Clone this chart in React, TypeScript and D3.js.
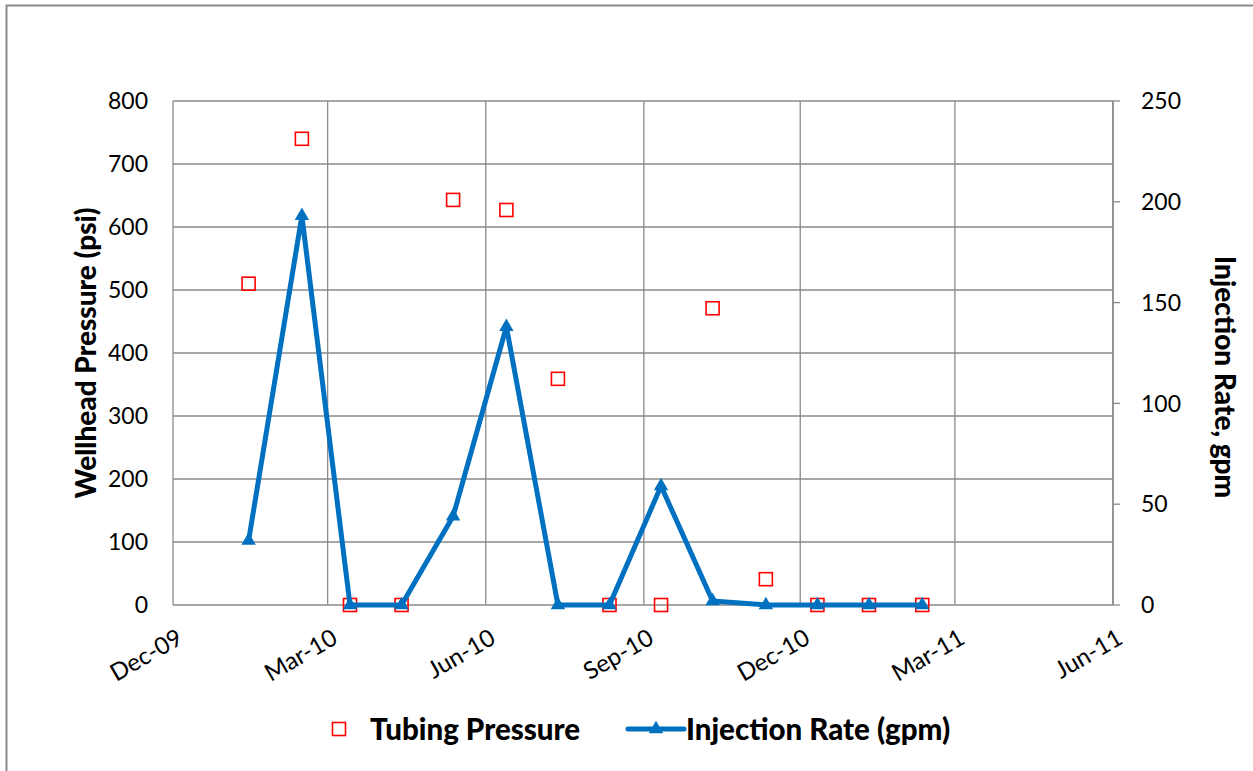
import React from 'react';
import * as d3 from 'd3';

// monthly readings (approx. mid-month)
const sampleDates = [
  '2010-01-14', '2010-02-14', '2010-03-14', '2010-04-13', '2010-05-13', '2010-06-13', '2010-07-13',
  '2010-08-12', '2010-09-11', '2010-10-11', '2010-11-11', '2010-12-11', '2011-01-10', '2011-02-10',
];
const tubingPressure = [510, 740, 0, 0, 643, 627, 359, 0, 0, 471, 41, 0, 0, 0];
const injectionRate = [32, 193, 0, 0, 44, 138, 0, 0, 59, 2, 0, 0, 0, 0];

const xDomain = ['2009-12-01', '2011-06-01'];
const pressureTicks = [0, 100, 200, 300, 400, 500, 600, 700, 800];
const rateTicks = [0, 50, 100, 150, 200, 250];

const W = 1253;
const H = 771;
const plot = { left: 173, right: 1113, top: 101, bottom: 605 };
const FONT = 'Lato, "Open Sans", sans-serif';
const GRID = '#8a8a8a';
const BLUE = '#0070C0';
const RED = '#FF0000';

const parse = d3.timeParse('%Y-%m-%d');

const App: React.FC = () => {
  const x = d3.scaleTime()
    .domain(xDomain.map(d => parse(d) as Date))
    .range([plot.left, plot.right]);
  const yL = d3.scaleLinear().domain([0, 800]).range([plot.bottom, plot.top]);
  const yR = d3.scaleLinear().domain([0, 250]).range([plot.bottom, plot.top]);

  // every third month starting Dec-09
  const xTicks = d3.timeMonth.range(x.domain()[0], d3.timeDay.offset(x.domain()[1], 1), 3);
  const fmt = d3.timeFormat('%b-%y');

  const dates = sampleDates.map(d => parse(d) as Date);
  const line = d3.line<number>()
    .x((_, i) => x(dates[i]))
    .y(d => yR(d));
  const tri = d3.symbol(d3.symbolTriangle, 90)();

  return (
    <svg width={W} height={H} style={{ position: 'absolute', left: 0, top: 0, background: '#fff' }}
      fontFamily={FONT}>
      <rect x={6.5} y={5.5} width={W + 20} height={H + 20} fill="#fff" stroke={GRID} strokeWidth={2} />

      {/* grid */}
      {pressureTicks.map(t => (
        <line key={'h' + t} x1={plot.left} x2={plot.right} y1={yL(t)} y2={yL(t)} stroke={GRID} strokeWidth={1.3} />
      ))}
      {xTicks.map(t => (
        <line key={'v' + t.getTime()} x1={x(t)} x2={x(t)} y1={plot.top} y2={plot.bottom} stroke={GRID} strokeWidth={1.3} />
      ))}

      {/* right axis */}
      <line x1={plot.right} x2={plot.right} y1={plot.top} y2={plot.bottom} stroke={GRID} strokeWidth={1.5} />
      {rateTicks.map(t => (
        <g key={'r' + t}>
          <line x1={plot.right} x2={plot.right + 7} y1={yR(t)} y2={yR(t)} stroke={GRID} strokeWidth={1.3} />
          <text x={plot.right + 28} y={yR(t)} dy="0.36em" fontSize={23}>{t}</text>
        </g>
      ))}

      {/* left labels */}
      {pressureTicks.map(t => (
        <text key={'l' + t} x={148} y={yL(t)} dy="0.36em" textAnchor="end" fontSize={23}>{t}</text>
      ))}

      {/* x labels */}
      {xTicks.map(t => (
        <text key={'x' + t.getTime()} transform={`translate(${x(t) + 3},${plot.bottom + 23}) rotate(-30)`}
          textAnchor="end" dy="0.7em" fontSize={24}>{fmt(t)}</text>
      ))}

      {/* axis titles */}
      <text transform={`translate(96,${(plot.top + plot.bottom) / 2}) rotate(-90)`} textAnchor="middle"
        fontSize={28} fontWeight="900">Wellhead Pressure (psi)</text>
      <text transform={`translate(1215,377) rotate(90)`} textAnchor="middle"
        fontSize={28} fontWeight="900">Injection Rate, gpm</text>

      {/* tubing pressure squares */}
      {tubingPressure.map((v, i) => (
        <rect key={'s' + i} x={x(dates[i]) - 6.5} y={yL(v) - 6.5} width={13} height={13}
          fill="none" stroke={RED} strokeWidth={1.6} />
      ))}

      {/* injection rate line */}
      <path d={line(injectionRate) || ''} fill="none" stroke={BLUE} strokeWidth={5} strokeLinejoin="round" />
      {injectionRate.map((v, i) => (
        <path key={'t' + i} d={tri || ''} transform={`translate(${x(dates[i])},${yR(v)})`} fill={BLUE} />
      ))}

      {/* legend */}
      <rect x={332.5} y={722.5} width={13} height={13} fill="none" stroke={RED} strokeWidth={1.6} />
      <text x={370} y={729} dy="0.36em" fontSize={29.5} fontWeight="900">Tubing Pressure</text>
      <line x1={628} x2={684} y1={729} y2={729} stroke={BLUE} strokeWidth={5} strokeLinecap="round" />
      <path d={tri || ''} transform="translate(656,729)" fill={BLUE} />
      <text x={686} y={729} dy="0.36em" fontSize={29.5} fontWeight="900">Injection Rate (gpm)</text>
    </svg>
  );
};

export default App;
